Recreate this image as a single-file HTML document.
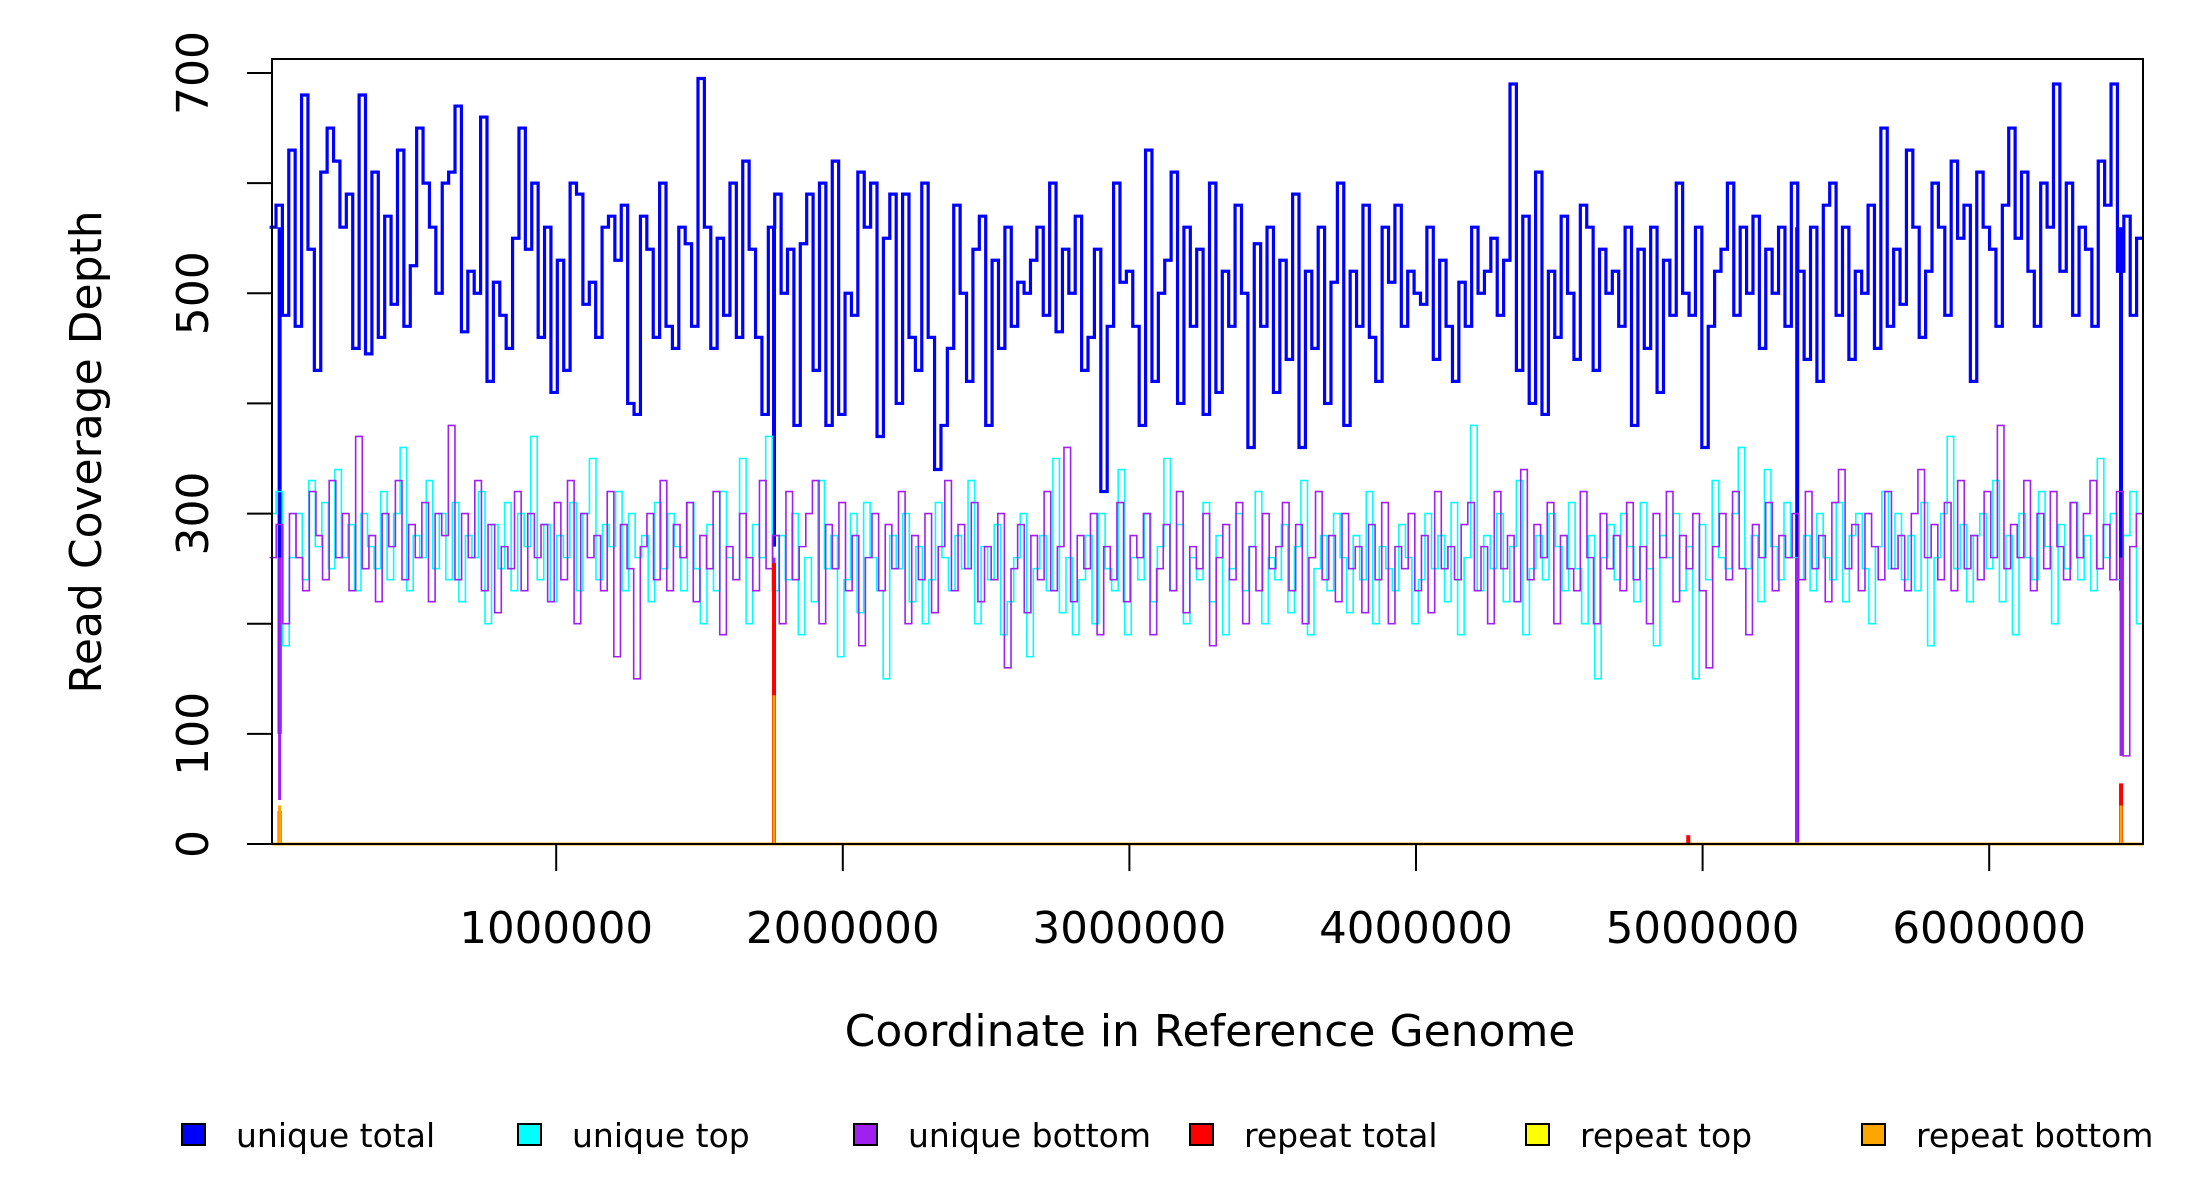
<!DOCTYPE html>
<html><head><meta charset="utf-8"><style>
html,body{margin:0;padding:0;background:#fff;}
svg{display:block;font-family:"DejaVu Sans","Liberation Sans",sans-serif;}
</style></head><body>
<svg id="chart" width="2200" height="1200" viewBox="0 0 2200 1200" xmlns="http://www.w3.org/2000/svg">
<rect x="0" y="0" width="2200" height="1200" fill="#fff"/>
<g id="series"></g>
<rect x="272" y="59" width="1871" height="785" fill="none" stroke="#000" stroke-width="2"/>
<g id="axes"></g>
<text transform="translate(101,452) rotate(-90)" text-anchor="middle" font-size="44">Read Coverage Depth</text>
<text x="1210" y="1046" text-anchor="middle" font-size="44">Coordinate in Reference Genome</text>
<g id="legend"></g>
</svg>
<script>
const uniqueTotal=[560,580,480,630,470,680,540,430,610,650,620,560,590,450,680,445,610,460,570,490,630,470,525,650,600,560,500,600,610,670,465,520,500,660,420,510,480,450,550,650,540,600,460,560,410,530,430,600,590,490,510,460,560,570,530,580,400,390,570,540,460,600,470,450,560,545,470,695,560,450,550,480,600,460,620,540,460,390,560,590,500,540,380,545,590,430,600,380,620,390,500,480,610,560,600,370,550,590,400,590,460,430,600,460,340,380,450,580,500,420,540,570,380,530,450,560,470,510,500,530,560,480,600,465,540,500,570,430,460,540,320,470,600,510,520,470,380,630,420,500,530,610,400,560,470,540,390,600,410,520,470,580,500,360,545,470,560,410,530,440,590,360,520,450,560,400,510,600,380,520,470,580,460,420,560,510,580,470,520,500,490,560,440,530,470,420,510,470,560,500,520,550,480,530,690,430,570,400,610,390,520,460,570,500,440,580,560,430,540,500,520,470,560,380,540,450,560,410,530,480,600,500,480,560,360,470,520,540,600,480,560,500,570,450,540,500,560,470,600,520,440,560,420,580,600,480,560,440,520,500,580,450,650,470,540,490,630,560,460,520,600,560,480,620,550,580,420,610,560,540,470,580,650,550,610,520,470,600,560,690,520,600,480,560,540,470,620,580,690,520,570,480,550];
const uniqueTop=[300,320,180,260,300,240,330,270,310,250,340,260,290,230,300,270,250,320,240,300,360,230,280,260,330,250,300,240,310,220,280,260,320,200,290,250,310,230,300,270,370,240,290,220,280,260,310,230,300,350,240,290,270,320,230,300,260,280,220,310,250,300,270,230,310,250,200,290,230,320,260,240,350,200,290,260,370,230,280,240,300,190,260,220,330,250,280,170,240,300,210,310,260,230,150,280,250,300,220,270,200,240,310,260,230,280,250,330,200,270,240,290,190,220,260,300,170,250,280,230,350,210,260,190,240,280,200,300,250,230,340,190,260,240,300,220,270,350,230,290,200,260,240,310,220,280,190,250,300,230,270,320,200,260,240,290,210,270,330,190,250,280,230,300,260,210,280,240,320,200,270,250,230,290,260,200,240,300,250,280,220,310,190,260,380,230,280,250,300,220,270,330,190,250,280,240,300,270,230,310,250,200,280,150,260,290,240,300,270,220,310,250,180,280,260,300,230,270,150,290,240,330,260,250,300,360,250,280,220,340,270,240,310,260,240,280,230,300,260,240,310,220,280,300,250,200,270,320,250,300,240,280,230,310,180,260,300,370,250,290,220,280,300,250,330,220,280,190,300,260,240,320,270,200,290,250,310,240,280,230,350,260,300,240,280,320,200];
const uniqueBottom=[260,290,200,300,260,230,320,280,240,330,260,300,230,370,250,280,220,300,270,330,240,290,260,310,220,300,280,380,240,300,260,330,230,290,210,270,250,320,230,300,260,290,220,310,240,330,200,300,260,280,230,320,170,290,250,150,270,300,240,330,230,290,260,310,220,280,250,320,190,270,240,300,260,230,330,250,280,200,320,240,270,300,330,200,290,250,310,230,280,180,260,300,230,290,250,320,200,280,240,300,210,270,330,230,290,250,310,220,270,240,300,160,250,290,210,280,240,320,230,270,360,220,280,250,300,190,270,240,310,220,280,260,300,190,250,290,230,320,210,270,250,300,180,260,290,240,310,200,270,230,300,250,270,310,230,290,200,260,320,240,280,220,300,250,270,210,290,240,310,200,270,250,300,230,280,210,320,250,270,240,290,310,230,270,200,320,250,280,220,340,240,290,260,310,200,280,250,230,320,260,200,300,250,280,230,310,240,270,200,300,260,320,220,280,250,300,230,160,270,300,240,320,250,190,290,260,310,230,280,260,300,240,320,250,280,220,310,340,250,290,230,300,270,240,320,250,280,230,300,340,260,290,240,310,230,330,250,280,240,320,260,380,250,290,260,330,230,300,250,320,270,240,310,260,300,330,250,290,240,320,80,270,300];
const uniqueTotalDipPos=[35000,1760000,5330000,6460000];
const uniqueTotalDipVal=[100,270,0,230];
const uniqueBottomDipPos=[35000,1760000,5330000,6460000];
const uniqueBottomDipVal=[40,150,0,80];
const repeatTotalPos=[35000,1760000,4950000,6460000];
const repeatTotalVal=[30,255,8,55];
const repeatBottomPos=[35000,1760000,6460000];
const repeatBottomVal=[35,135,35];
const yTicks=[0,100,200,300,400,500,600,700];
const yLabels=["0","100","","300","","500","","700"];
const xTicks=[1000000,2000000,3000000,4000000,5000000,6000000];
const xLabels=["1000000","2000000","3000000","4000000","5000000","6000000"];
const legendNames=["unique total","unique top","unique bottom","repeat total","repeat top","repeat bottom"];
const legendColors=["#0000ff","#00ffff","#a020f0","#ff0000","#ffff00","#ffa500"];

const NS="http://www.w3.org/2000/svg";
const L=272,R=2143,T=59,B=844,X0=269.6,PX=286.6e-6,Y0=844,Y700=73;
const XMAX=(R-X0)/PX;
const xs=v=>X0+v*PX;
const ys=v=>Y0-(v/700)*(Y0-Y700);
function mk(tag,attrs,parent){const e=document.createElementNS(NS,tag);for(const k in attrs)e.setAttribute(k,attrs[k]);parent.appendChild(e);return e;}
const S=document.getElementById('series'),A=document.getElementById('axes'),G=document.getElementById('legend');
function stepPath(vals){const w=XMAX/vals.length;let d="M"+xs(0)+","+ys(vals[0]);
 for(let i=0;i<vals.length;i++){d+="L"+xs(i*w)+","+ys(vals[i])+"L"+xs((i+1)*w)+","+ys(vals[i]);}return d;}
function spikes(pos,val,color,w,name){pos.forEach((p,i)=>{
 const l=mk('line',{x1:xs(p),x2:xs(p),y1:ys(0),y2:ys(val[i]),stroke:color,'stroke-width':w},S);
 
 });}
const p1=mk('path',{d:stepPath(uniqueTotal),fill:'none',stroke:'#0000ff','stroke-width':3.2},S);


uniqueTotalDipPos.forEach((p,i)=>{const l=mk('line',{x1:xs(p),x2:xs(p),y1:ys(uniqueTotalDipVal[i]),y2:ys(560),stroke:'#0000ff','stroke-width':4},S);
 
 });
const p2=mk('path',{d:stepPath(uniqueTop),fill:'none',stroke:'#00ffff','stroke-width':1.6},S);


const p3=mk('path',{d:stepPath(uniqueBottom),fill:'none',stroke:'#a020f0','stroke-width':1.6},S);


uniqueBottomDipPos.forEach((p,i)=>{const l=mk('line',{x1:xs(p),x2:xs(p),y1:ys(uniqueBottomDipVal[i]),y2:ys(260),stroke:'#a020f0','stroke-width':3},S);
 
 });
const base=mk('line',{x1:L,x2:R,y1:ys(0),y2:ys(0),stroke:'#ffa500','stroke-width':3},S);


spikes(repeatTotalPos,repeatTotalVal,'#ff0000',4,'repeat-total-spike');
spikes(repeatBottomPos,repeatBottomVal,'#ffa500',3,'repeat-bottom-spike');
yTicks.forEach((t,i)=>{const y=ys(t);
 const l=mk('line',{x1:L-25,x2:L,y1:y,y2:y,stroke:'#000','stroke-width':2},A);
 
 
 if(yLabels[i]){const tx=mk('text',{transform:`translate(208,${y}) rotate(-90)`,'text-anchor':'middle','font-size':44},A);
 tx.textContent=yLabels[i];
 
 }});
xTicks.forEach((t,i)=>{const x=xs(t);
 const l=mk('line',{x1:x,x2:x,y1:B,y2:B+27,stroke:'#000','stroke-width':2},A);
 
 
 const tx=mk('text',{x:x,y:943,'text-anchor':'middle','font-size':43.5},A);
 tx.textContent=xLabels[i];
 
 });
legendNames.forEach((n,i)=>{const x=182+i*336;
 const r=mk('rect',{x:x,y:1124,width:23,height:21,fill:legendColors[i],stroke:'#000','stroke-width':2},G);
 
 
 const tx=mk('text',{x:x+54,y:1147,'font-size':33},G);
 tx.textContent=n;
 
 });
</script>
</body></html>
